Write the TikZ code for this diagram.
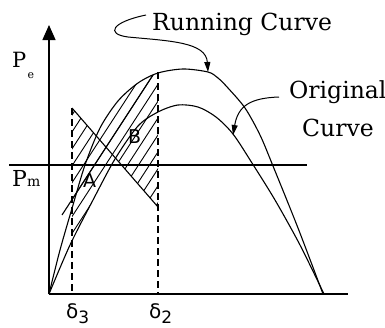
\documentclass[tikz,border=0pt]{standalone}
\usepackage{fontspec}
\setmainfont{DejaVu Serif}
\newfontfamily\sansf{DejaVu Sans}
\usetikzlibrary{arrows.meta}
\begin{document}
\begin{tikzpicture}[x=1pt,y=-1pt,
  curve/.style={line width=1.1pt},
  hatchline/.style={line width=0.9pt},
  axisline/.style={line width=1.4pt},
  dashline/.style={line width=1.1pt, dash pattern=on 7pt off 4pt},
  ptr/.style={line width=1pt, -{Triangle[length=10pt,width=6pt]}},
  lbl/.style={inner sep=0pt, anchor=base west},
  big/.style={font=\fontsize{23.5}{24}\selectfont}]
\useasboundingbox (0,0) rectangle (385,327);

% hatching, region 1: under running curve, above the falling line
\begin{scope}
  \clip (72,108) -- (158,207) -- (158,0) -- (72,0) -- cycle;
  \clip plot[smooth] coordinates {(49,294) (60,250) (73,205) (85,165) (100,128) (118,101) (138,83) (158,73) (183,69) (208,72) (218,78) (228,88) (245,108) (260,135) (273,166) (298,228) (323,294)} -- cycle;
  \foreach \n in {-12,...,14} \draw[hatchline] ({-6.25+11*\n},320) -- ++(208,-320);
\end{scope}
% hatching, region 2: below the falling line, above original curve
\begin{scope}
  \clip (72,108) -- (158,207) -- (72,330) -- cycle;
  \clip plot[smooth] coordinates {(49,294) (70,245) (93,200) (115,159) (138,126) (158,112) (178,105) (198,107) (216,117) (233,134) (252,163) (275,200) (300,245) (324,294)} -- (385,294) -- (385,0) -- (0,0) -- (0,294) -- cycle;
  \foreach \n in {-12,...,14} \draw[hatchline] ({-6.25+11*\n},320) -- ++(208,-320);
\end{scope}

% axes
\coordinate (O) at (49,294);
\coordinate (ytop) at (49,25);
\coordinate (xend) at (348,294);
\draw[axisline, -{Triangle[length=15pt,width=13pt]}] (O) -- (ytop);
\draw[axisline] (O) -- (xend);

% Pm line
\coordinate (pmL) at (9,165);
\coordinate (pmR) at (307,165);
\draw[curve] (pmL) -- (pmR);

% curves
\draw[curve] plot[smooth] coordinates {(49,294) (60,250) (73,205) (85,165) (100,128) (118,101) (138,83) (158,73) (183,69) (208,72) (218,78) (228,88) (245,108) (260,135) (273,166) (298,228) (323,294)};
\draw[curve] plot[smooth] coordinates {(49,294) (70,245) (93,200) (115,159) (138,126) (158,112) (178,105) (198,107) (216,117) (233,134) (252,163) (275,200) (300,245) (324,294)};

% dashed lines
\coordinate (d3top) at (72,108);
\coordinate (d3bot) at (72,294);
\coordinate (d2top) at (158,72);
\coordinate (d2bot) at (158,294);
\draw[dashline] (d3top) -- (d3bot);
\draw[dashline] (d2top) -- (d2bot);

% falling line and long diagonal
\coordinate (fallend) at (158,207);
\draw[curve] (d3top) -- (fallend);
\coordinate (diagA) at (62,215);
\coordinate (diagB) at (153,75);
\draw[curve] (diagA) -- (diagB);

% labels
\node[lbl, big] (rc) at (152,30) {Running Curve};
\node[lbl, big] (orig) at (289,98) {Original};
\node[lbl, big] (curv) at (302,136) {Curve};
\node[lbl, font=\fontsize{21}{21}\selectfont] (pe) at (12,67) {P};
\node[lbl, font=\fontsize{11}{11}\selectfont] (pesub) at (27.5,78) {e};
\node[lbl, font=\fontsize{22}{22}\selectfont] (pm) at (12,186) {P};
\node[lbl, font=\fontsize{14}{14}\selectfont] (pmsub) at (27,186) {m};
\node[lbl, font=\sansf\fontsize{20}{20}\selectfont] (d3) at (66,318) {δ\raisebox{-5pt}{\fontsize{17}{17}\selectfont 3}};
\node[lbl, font=\sansf\fontsize{20}{20}\selectfont] (d2) at (149,318) {δ\raisebox{-5pt}{\fontsize{17}{17}\selectfont 2}};
\node[lbl, font=\sansf\fontsize{19}{19}\selectfont] (la) at (83,187) {A};
\node[lbl, font=\sansf\fontsize{19}{19}\selectfont] (lb) at (128,143) {B};

% pointers
\coordinate (rtail) at (146,15);
\coordinate (rtip) at (208,72);
\draw[ptr] (rtail) .. controls (112,22) and (105,34) .. (128,37) .. controls (170,41) and (206,42) .. (rtip);
\coordinate (otail) at (279,97);
\coordinate (otip) at (233,135);
\draw[ptr] (otail) .. controls (250,98) and (238,106) .. (otip);
\end{tikzpicture}
\end{document}
